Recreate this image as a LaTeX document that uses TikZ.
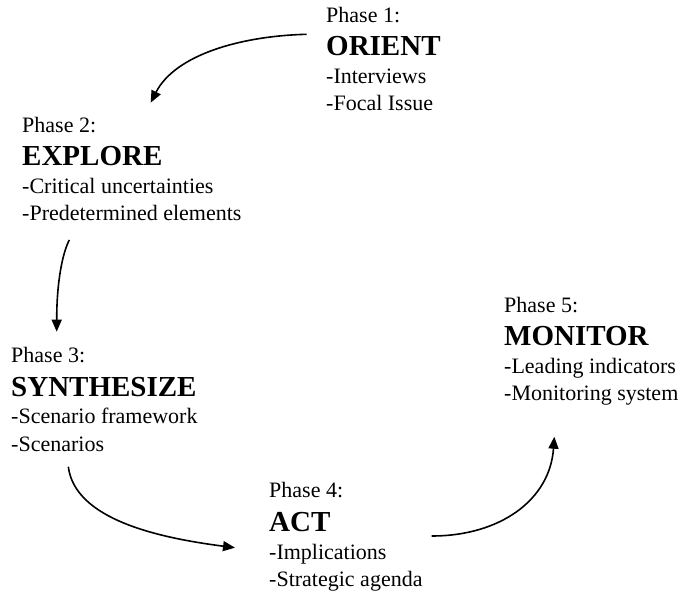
\documentclass[tikz,border=0pt]{standalone}
\usepackage{fontspec}
\setmainfont{Liberation Serif}
\usetikzlibrary{arrows.meta}
\tikzset{
  lbl/.style={anchor=base west, inner sep=0pt, font=\fontsize{22}{26}\selectfont},
  ttl/.style={anchor=base west, inner sep=0pt, font=\fontsize{29}{32}\selectfont\bfseries},
  flow/.style={line width=1.6pt, -{Triangle[length=12pt,width=10pt]}}
}
\begin{document}
\begin{tikzpicture}[x=1pt,y=-1pt]
\useasboundingbox (0,0) rectangle (681,596);
\node[lbl] (p1a) at (326,23) {Phase 1:};
\node[ttl] (p1b) at (326,56) {ORIENT};
\node[lbl] (p1c) at (326,84) {-Interviews};
\node[lbl] (p1d) at (326,111) {-Focal Issue};
\node[lbl] (p2a) at (22,133) {Phase 2:};
\node[ttl] (p2b) at (22,166) {EXPLORE};
\node[lbl] (p2c) at (22,194) {-Critical uncertainties};
\node[lbl] (p2d) at (22,221) {-Predetermined elements};
\node[lbl] (p3a) at (11,363) {Phase 3:};
\node[ttl] (p3b) at (11,396) {SYNTHESIZE};
\node[lbl] (p3c) at (11,424) {-Scenario framework};
\node[lbl] (p3d) at (11,451) {-Scenarios};
\node[lbl] (p4a) at (269,497) {Phase 4:};
\node[ttl] (p4b) at (269,531) {ACT};
\node[lbl] (p4c) at (269,559) {-Implications};
\node[lbl] (p4d) at (269,586.5) {-Strategic agenda};
\node[lbl] (p5a) at (504,313) {Phase 5:};
\node[ttl] (p5b) at (504,346) {MONITOR};
\node[lbl] (p5c) at (504,374) {-Leading indicators};
\node[lbl] (p5d) at (504,401) {-Monitoring system};
\coordinate (a1s) at (306.7,34.3);
\coordinate (a1e) at (150.7,102.7);
\coordinate (a2s) at (69.3,240);
\coordinate (a2e) at (56.7,331.7);
\coordinate (a3s) at (68.3,466.7);
\coordinate (a3e) at (235,547.7);
\coordinate (a4s) at (431.7,536);
\coordinate (a4e) at (554.3,436.7);
\draw[flow] (a1s) .. controls (240,36) and (175,55) .. (a1e);
\draw[flow] (a2s) .. controls (63,252) and (56.7,280) .. (a2e);
\draw[flow] (a3s) .. controls (75,520) and (160,538) .. (a3e);
\draw[flow] (a4s) .. controls (500,536) and (550,500) .. (a4e);
\end{tikzpicture}
\end{document}
